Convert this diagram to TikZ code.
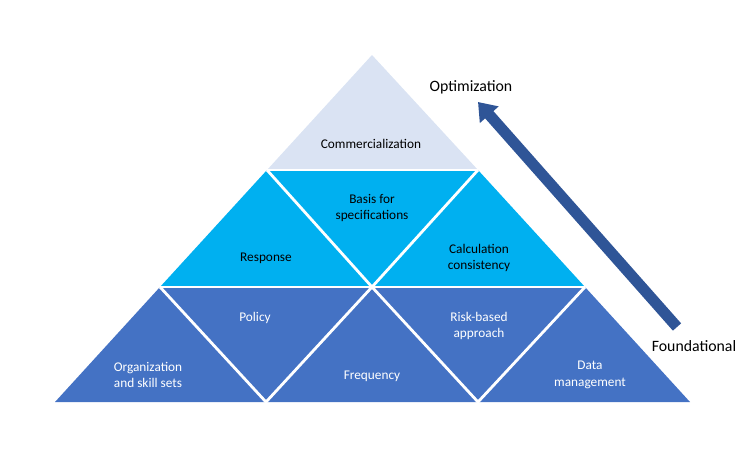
\documentclass[tikz,border=0pt]{standalone}
\usepackage{fontspec}
\setmainfont{Carlito}
\usetikzlibrary{arrows.meta}
\definecolor{topc}{HTML}{DAE3F3}
\definecolor{midc}{HTML}{00B0F0}
\definecolor{botc}{HTML}{4472C4}
\definecolor{arrc}{HTML}{2F5597}
\tikzset{
  tri/.style={draw=white, line width=2.8pt, line join=miter},
  lbl/.style={align=center, font=\fontsize{13.3}{16.5}\selectfont, inner sep=0pt},
  outer/.style={font=\fontsize{15.8}{18}\selectfont, inner sep=0pt},
}
\begin{document}
\begin{tikzpicture}[x=1pt,y=-1pt]
\useasboundingbox (0,0) rectangle (750,450);
% coordinates
\coordinate (A) at (372,55);
\coordinate (L1) at (267,170); \coordinate (R1) at (478,170);
\coordinate (L2) at (160,287); \coordinate (M2) at (372,287); \coordinate (R2) at (585,287);
\coordinate (L3) at (55,402); \coordinate (M3a) at (266,402); \coordinate (M3b) at (478,402); \coordinate (R3) at (690,402);
% top
\fill[topc] (A) -- (R1) -- (L1) -- cycle;
% middle
\fill[midc] (L1) -- (R1) -- (R2) -- (L2) -- cycle;
% bottom
\fill[botc] (L2) -- (R2) -- (R3) -- (L3) -- cycle;
% white separators
\draw[tri] (L1) -- (R1);
\draw[tri] (L2) -- (R2);
\draw[tri] (L1) -- (M2) -- (R1);
\draw[tri] (L2) -- (M3a) -- (M2) -- (M3b) -- (R2);
% labels
\node[lbl] (comm) at (371,144) {Commercialization};
\node[lbl] (basis) at (372,208) {Basis for\\specifications};
\node[lbl] (resp) at (266,258) {Response};
\node[lbl] (calc) at (479,258) {Calculation\\consistency};
\node[lbl, white] (pol) at (255,318) {Policy};
\node[lbl, white] (risk) at (479,326) {Risk-based\\approach};
\node[lbl, white] (org) at (148,375) {Organization\\and skill sets};
\node[lbl, white] (freq) at (372,376) {Frequency};
\node[lbl, white] (data) at (590,375) {Data\\management};
% axis labels
\node[outer] (opt) at (471,87) {Optimization};
\node[outer] (fnd) at (694,346) {Foundational};
% arrow
\coordinate (tail) at (677,327);
\coordinate (tip) at (478,102);
\draw[arrc, line width=11pt, -{Triangle[length=17pt, width=24pt]}] (tail) -- (tip);
\end{tikzpicture}
\end{document}
